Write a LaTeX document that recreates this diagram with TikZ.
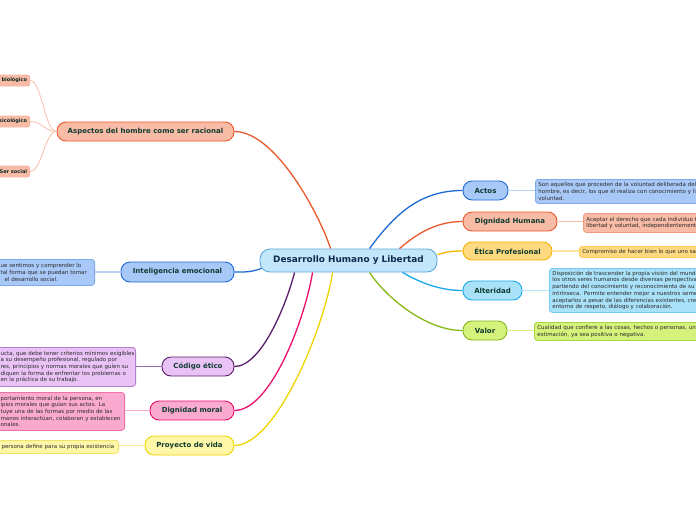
\documentclass[tikz,border=0pt]{standalone}
\usepackage{fontspec}
\setmainfont{DejaVu Sans}
\definecolor{maintxt}{HTML}{0F3B30}
\definecolor{centtxt}{HTML}{12294F}
\definecolor{desctxt}{HTML}{2A2A2A}
\definecolor{centF}{HTML}{C3E7FA}\definecolor{centD}{HTML}{5DA8DC}
\definecolor{blueF}{HTML}{A8C9F7}\definecolor{blueD}{HTML}{1E6BD6}\definecolor{blueL}{HTML}{7FA9EC}\definecolor{blueC}{HTML}{B8D2F6}
\definecolor{salF}{HTML}{F8BBA5}\definecolor{salD}{HTML}{EB5A2C}\definecolor{salL}{HTML}{F29A80}\definecolor{salC}{HTML}{F8BFAE}
\definecolor{ambF}{HTML}{FFD97F}\definecolor{ambD}{HTML}{F7B500}\definecolor{ambL}{HTML}{FFCC55}\definecolor{ambC}{HTML}{FFE3A0}
\definecolor{cyaF}{HTML}{A9E1F8}\definecolor{cyaD}{HTML}{18A9EC}\definecolor{cyaL}{HTML}{72C8F0}\definecolor{cyaC}{HTML}{B5E5F8}
\definecolor{limF}{HTML}{D5F27C}\definecolor{limD}{HTML}{86B81A}\definecolor{limL}{HTML}{A8D43E}\definecolor{limC}{HTML}{D5F27C}
\definecolor{purF}{HTML}{EAC3F6}\definecolor{purD}{HTML}{5A1F6B}\definecolor{purL}{HTML}{B27FCB}\definecolor{purC}{HTML}{9A6AB0}
\definecolor{pinF}{HTML}{FBAACF}\definecolor{pinD}{HTML}{EC0E6C}\definecolor{pinL}{HTML}{EE72A8}\definecolor{pinC}{HTML}{F8A9CC}
\definecolor{yelF}{HTML}{FFF7A8}\definecolor{yelD}{HTML}{EDD500}\definecolor{yelL}{HTML}{F2E26A}\definecolor{yelC}{HTML}{F7EC9A}
\tikzset{
  mainnode/.style={draw, rounded corners=9pt, line width=0.9pt, inner sep=0pt,
    font=\fontsize{7}{8}\selectfont\bfseries, text=maintxt},
  descnode/.style={draw, rounded corners=3pt, line width=0.8pt, inner xsep=3pt, inner ysep=0pt,
    align=left, font=\fontsize{5.5}{6.7}\selectfont, text=desctxt},
  subnode/.style={draw, rounded corners=2pt, line width=0.8pt, inner xsep=2.5pt, inner ysep=0pt,
    minimum height=11pt, font=\fontsize{5}{5.5}\selectfont\bfseries, text=maintxt!70!black},
  link/.style={line width=1.3pt},
  sublink/.style={line width=1.1pt}
}
\begin{document}
\begin{tikzpicture}[x=1pt,y=-1pt]
\useasboundingbox (0,0) rectangle (696,520);
\clip (0,0) rectangle (696,520);
\fill[white] (0,0) rectangle (696,520);

% central
\node[mainnode, rounded corners=10pt, font=\fontsize{8.9}{10}\selectfont\bfseries, text=centtxt,
  fill=centF, draw=centD, minimum width=177pt, minimum height=23pt] (central) at (348.5,260.5) {Desarrollo Humano y Libertad};

% right main nodes
\node[mainnode, fill=blueF, draw=blueD, minimum width=45pt, minimum height=19pt] (actos) at (485.5,190.5) {Actos};
\node[mainnode, fill=salF, draw=salD, minimum width=94pt, minimum height=19pt] (dhumana) at (510,221.5) {Dignidad Humana};
\node[mainnode, fill=ambF, draw=ambD, minimum width=89pt, minimum height=18pt] (etica) at (507.5,251) {Ética Profesional};
\node[mainnode, fill=cyaF, draw=cyaD, minimum width=59pt, minimum height=19pt] (alteridad) at (492.5,290.5) {Alteridad};
\node[mainnode, fill=limF, draw=limD, minimum width=44pt, minimum height=19pt] (valor) at (485,330.5) {Valor};

% left main nodes
\node[mainnode, fill=salF, draw=salD, minimum width=177pt, minimum height=19pt] (aspectos) at (145.5,131.5) {Aspectos del hombre como ser racional};
\node[mainnode, fill=blueF, draw=blueD, minimum width=113pt, minimum height=20pt] (intel) at (177.5,272) {Inteligencia emocional};
\node[mainnode, fill=purF, draw=purD, minimum width=72pt, minimum height=19pt] (codigo) at (198,366.5) {Código ético};
\node[mainnode, fill=pinF, draw=pinD, minimum width=84pt, minimum height=19pt] (dmoral) at (192,410.5) {Dignidad moral};
\node[mainnode, fill=yelF, draw=yelD, minimum width=89pt, minimum height=19pt] (proyecto) at (189.5,445.5) {Proyecto de vida};

% right descriptions
\node[descnode, fill=blueF, draw=blueL, anchor=north west, minimum height=24pt, text width=200pt] (actosd) at (535,179)
  {Son aquellos que proceden de la voluntad deliberada del\\hombre, es decir, los que él realiza con conocimiento y libre\\voluntad.};
\node[descnode, fill=salF, draw=salL, anchor=north west, minimum height=19pt, text width=200pt] (dhumanad) at (583,213)
  {Aceptar el derecho que cada individuo tiene\\libertad y voluntad, independientemente};
\node[descnode, fill=ambF, draw=ambL, anchor=north west, minimum height=11pt, text width=200pt] (eticad) at (579,246)
  {Compromiso de hacer bien lo que uno sabe};
\node[descnode, fill=cyaF, draw=cyaL, anchor=north west, minimum height=44pt, text width=200pt] (alteridadd) at (549,268)
  {Disposición de trascender la propia visión del mundo\\los otros seres humanos desde diversas perspectivas\\partiendo del conocimiento y reconocimiento de su\\intrínseca. Permite entender mejor a nuestros semejantes\\aceptarlos a pesar de las diferencias existentes, creando\\entorno de respeto, diálogo y colaboración.};
\node[descnode, fill=limF, draw=limL, anchor=north west, minimum height=18pt, text width=200pt] (valord) at (534,322)
  {Cualidad que confiere a las cosas, hechos o personas, una\\estimación, ya sea positiva o negativa.};

% left descriptions
\node[descnode, fill=blueF, draw=blueL, anchor=north east, minimum height=26pt, text width=91pt] (inteld) at (95,259)
  {\mbox{ue sentimos y comprender lo}\\\mbox{tal forma que se puedan tomar}\\\mbox{\hspace*{4pt}el desarrollo social.}};
\node[descnode, fill=purF, draw=purL, anchor=north east, minimum height=39pt, text width=132pt] (codigod) at (136,347)
  {\mbox{ucta, que debe tener criterios mínimos exigibles}\\\mbox{a su desempeño profesional, regulado por}\\\mbox{res, principios y normas morales que guíen su}\\\mbox{diquen la forma de enfrentar los problemas o}\\\mbox{en la práctica de su trabajo.}};
\node[descnode, fill=pinF, draw=pinL, anchor=north east, minimum height=38pt, text width=121pt] (dmorald) at (125,392)
  {\mbox{portamiento moral de la persona, en}\\\mbox{ipios morales que guían sus actos. La}\\\mbox{tuye una de las formas por medio de las}\\\mbox{manos interactúan, colaboran y establecen}\\\mbox{onales.}};
\node[descnode, fill=yelF, draw=yelL, anchor=north east, minimum height=13pt, text width=115pt] (proyectod) at (119,440)
  {\mbox{\hspace*{1pt}persona define para su propia existencia}};

% aspect sub-nodes
\node[subnode, fill=salF, draw=salL!70, anchor=east] (sbio) at (30,80.5) {Ser biológico};
\node[subnode, fill=salF, draw=salL!70, anchor=east] (spsi) at (30,121.5) {Ser psicológico};
\node[subnode, fill=salF, draw=salL!70, anchor=east] (ssoc) at (30,171.5) {Ser social};

% main connectors
\draw[link, salD] ([xshift=71pt]central.north west) .. controls +(-11,-34) and +(41,0) .. (aspectos.east);
\draw[link, blueD] ([xshift=2pt,yshift=4pt]central.south west) .. controls +(-12,4) and +(11,0) .. (intel.east);
\draw[link, purD] ([xshift=35pt]central.south west) .. controls +(-7,28) and +(28,0) .. (codigo.east);
\draw[link, pinD] ([xshift=53pt]central.south west) .. controls +(-8,48) and +(36,0) .. (dmoral.east);
\draw[link, yelD] ([xshift=73pt]central.south west) .. controls +(-9,58) and +(41,0) .. (proyecto.east);
\draw[link, blueD] ([xshift=110pt]central.north west) .. controls +(25,-34) and +(-43,0) .. (actos.west);
\draw[link, salD] ([xshift=140pt]central.north west) .. controls +(15,-13) and +(-28,0) .. (dhumana.west);
\draw[link, ambD] ([yshift=-6pt]central.north east) .. controls +(11,-3) and +(-11,0) .. (etica.west);
\draw[link, cyaD] ([xshift=143pt]central.south west) .. controls +(17,10) and +(-23,0) .. (alteridad.west);
\draw[link, limD] ([xshift=110pt]central.south west) .. controls +(15,23) and +(-38,0) .. (valor.west);

% description connectors
\draw[sublink, blueC] (actos.east) -- (actos.east -| actosd.west);
\draw[sublink, salC] (dhumana.east) -- (dhumana.east -| dhumanad.west);
\draw[sublink, ambC] (etica.east) -- (etica.east -| eticad.west);
\draw[sublink, cyaC] (alteridad.east) -- (alteridad.east -| alteridadd.west);
\draw[sublink, limC] (valor.east) -- (valor.east -| valord.west);
\draw[sublink, blueC] (intel.west) -- (intel.west -| inteld.east);
\draw[sublink, purC] (codigo.west) -- (codigo.west -| codigod.east);
\draw[sublink, pinC] (dmoral.west) -- (dmoral.west -| dmorald.east);
\draw[sublink, yelC] (proyecto.west) -- (proyecto.west -| proyectod.east);

% aspect sub connectors
\draw[line width=0.8pt, salC] (aspectos.west) .. controls +(-12,0) and +(12,0) .. (sbio.east);
\draw[line width=0.8pt, salC] (aspectos.west) .. controls +(-12,0) and +(12,0) .. (spsi.east);
\draw[line width=0.8pt, salC] (aspectos.west) .. controls +(-12,0) and +(12,0) .. (ssoc.east);
\end{tikzpicture}
\end{document}
